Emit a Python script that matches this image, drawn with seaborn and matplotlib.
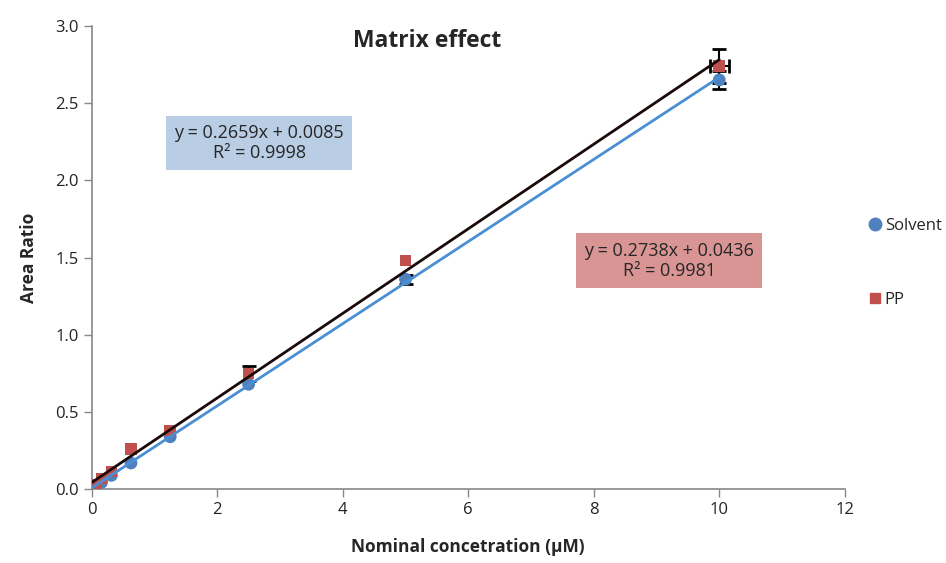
import numpy as np
import pandas as pd
import matplotlib
matplotlib.use("Agg")
import matplotlib.pyplot as plt
import seaborn as sns
from matplotlib.lines import Line2D

conc = [0.078, 0.156, 0.3125, 0.625, 1.25, 2.5, 5, 10]
solvent = [0.025, 0.045, 0.09, 0.17, 0.34, 0.68, 1.36, 2.65]
pp = [0.03, 0.07, 0.115, 0.26, 0.38, 0.75, 1.48, 2.74]
solvent_yerr = [0, 0, 0, 0, 0, 0, 0.03, 0.06]
pp_yerr = [0, 0, 0, 0, 0, 0.05, 0, 0.11]
pp_xerr = [0, 0, 0, 0, 0, 0, 0, 0.15]
fit_solvent = (0.2659, 0.0085, 0.9998)
fit_pp = (0.2738, 0.0436, 0.9981)
xticks = [0, 2, 4, 6, 8, 10, 12]
yticks = [0.0, 0.5, 1.0, 1.5, 2.0, 2.5, 3.0]

sns.set_theme(style="white")
plt.rcParams['font.family'] = ['Open Sans', 'DejaVu Sans']

blue = "#4f81bd"
red = "#c0504d"
lineblue = "#4a8fd4"

fig = plt.figure(figsize=(9.46, 5.63), dpi=100)
ax = fig.add_axes([0.097, 0.131, 0.796, 0.823])

df = pd.DataFrame({"x": conc, "Solvent": solvent, "PP": pp})
xf = np.array([0.0, 10.0])
fits = pd.DataFrame({
    "x": np.concatenate([xf, xf]),
    "y": np.concatenate([fit_solvent[0] * xf + fit_solvent[1], fit_pp[0] * xf + fit_pp[1]]),
    "s": ["Solvent"] * 2 + ["PP"] * 2,
})

ekw = dict(fmt="none", ecolor="black", elinewidth=1.5, capsize=5, capthick=2, zorder=2)
for i, x in enumerate(conc):
    if solvent_yerr[i] > 0:
        ax.errorbar([x], [solvent[i]], yerr=[solvent_yerr[i]], **ekw)
    if pp_yerr[i] > 0:
        ax.errorbar([x], [pp[i]], yerr=[pp_yerr[i]], **ekw)
    if pp_xerr[i] > 0:
        ax.errorbar([x], [pp[i]], xerr=[pp_xerr[i]], **ekw)

sns.scatterplot(data=df, x="x", y="Solvent", ax=ax, color=blue, marker="o", s=85, edgecolor="none", zorder=3, legend=False)
sns.scatterplot(data=df, x="x", y="PP", ax=ax, color=red, marker="s", s=70, edgecolor="none", zorder=3, legend=False)
sns.lineplot(data=fits, x="x", y="y", hue="s", palette={"Solvent": lineblue, "PP": "#1a0a0a"},
             ax=ax, linewidth=2, legend=False, zorder=4)

ax.set_xlim(0, 12)
ax.set_ylim(0, 3.0)
ax.set_xticks(xticks)
ax.set_yticks(yticks)
ax.set_xticklabels([str(t) for t in xticks])
ax.set_yticklabels([f"{t:.1f}" for t in yticks])
ax.tick_params(axis="both", which="major", labelsize=12, length=6, width=1, color="#888888",
               direction="out", bottom=True, left=True, labelcolor="#222222")
for sp in ["top", "right"]:
    ax.spines[sp].set_visible(False)
for sp in ["left", "bottom"]:
    ax.spines[sp].set_color("#888888")
    ax.spines[sp].set_linewidth(1.2)

ax.set_xlabel("Nominal concetration (µM)", fontsize=12.5, fontweight="bold", labelpad=14)
ax.set_ylabel("Area Ratio", fontsize=12.5, fontweight="bold", labelpad=12)
ax.text(5.35, 2.9, "Matrix effect", fontsize=16.5, fontweight="bold", ha="center", va="center")

ax.text(2.67, 2.24, f"y = {fit_solvent[0]:.4f}x + {fit_solvent[1]:.4f}\nR² = {fit_solvent[2]:.4f}",
        fontsize=13, ha="center", va="center", linespacing=1.15,
        bbox=dict(boxstyle="square,pad=0.45", facecolor="#b9cde5", edgecolor="none"))
ax.text(9.2, 1.48, f"y = {fit_pp[0]:.4f}x + {fit_pp[1]:.4f}\nR² = {fit_pp[2]:.4f}",
        fontsize=13, ha="center", va="center", linespacing=1.15,
        bbox=dict(boxstyle="square,pad=0.45", facecolor="#d99594", edgecolor="none"))

handles = [Line2D([], [], marker="o", color=blue, linestyle="none", markersize=9),
           Line2D([], [], marker="s", color=red, linestyle="none", markersize=7)]
fig.legend(handles, ["Solvent", "PP"], loc="upper left", bbox_to_anchor=(0.9, 0.64),
           frameon=False, fontsize=12, labelspacing=3.5, handletextpad=0.1, handlelength=1.0)

fig.savefig("out.png", dpi=100)
